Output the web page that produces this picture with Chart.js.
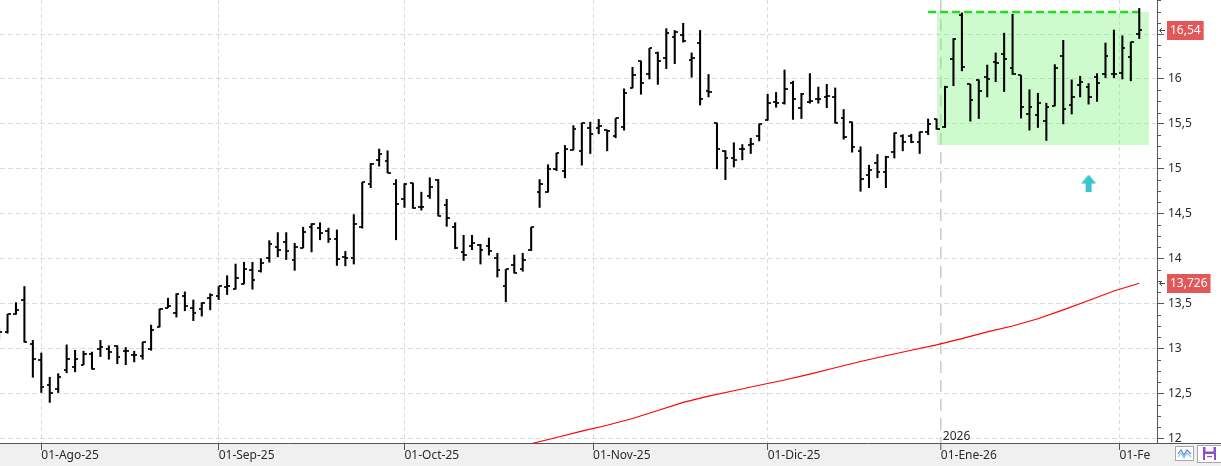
<!DOCTYPE html>
<html>
<head>
<meta charset="utf-8">
<script src="https://cdn.jsdelivr.net/npm/chart.js"></script>
<style>
html,body{margin:0;padding:0;background:#fff;overflow:hidden}
#wrap{position:relative;width:1221px;height:466px}
canvas{display:block}
</style>
</head>
<body>
<div id="wrap"><canvas id="c" width="1221" height="466"></canvas></div>
<script>
// ---------- DATA ----------
const tradingDays = [
 '2025-07-25','2025-07-28','2025-07-29','2025-07-30','2025-07-31',
 '2025-08-01','2025-08-04','2025-08-05','2025-08-06','2025-08-07','2025-08-08','2025-08-11','2025-08-12','2025-08-13','2025-08-14','2025-08-15','2025-08-18','2025-08-19','2025-08-20','2025-08-21','2025-08-22','2025-08-25','2025-08-26','2025-08-27','2025-08-28','2025-08-29',
 '2025-09-01','2025-09-02','2025-09-03','2025-09-04','2025-09-05','2025-09-08','2025-09-09','2025-09-10','2025-09-11','2025-09-12','2025-09-15','2025-09-16','2025-09-17','2025-09-18','2025-09-19','2025-09-22','2025-09-23','2025-09-24','2025-09-25','2025-09-26','2025-09-29','2025-09-30',
 '2025-10-01','2025-10-02','2025-10-03','2025-10-06','2025-10-07','2025-10-08','2025-10-09','2025-10-10','2025-10-13','2025-10-14','2025-10-15','2025-10-16','2025-10-17','2025-10-20','2025-10-21','2025-10-22','2025-10-23','2025-10-24','2025-10-27','2025-10-28','2025-10-29','2025-10-30','2025-10-31',
 '2025-11-03','2025-11-04','2025-11-05','2025-11-06','2025-11-07','2025-11-10','2025-11-11','2025-11-12','2025-11-13','2025-11-14','2025-11-17','2025-11-18','2025-11-19','2025-11-20','2025-11-21','2025-11-24','2025-11-25','2025-11-26','2025-11-27','2025-11-28',
 '2025-12-01','2025-12-02','2025-12-03','2025-12-04','2025-12-05','2025-12-08','2025-12-09','2025-12-10','2025-12-11','2025-12-12','2025-12-15','2025-12-16','2025-12-17','2025-12-18','2025-12-19','2025-12-22','2025-12-23','2025-12-24','2025-12-29','2025-12-30','2025-12-31',
 '2026-01-02','2026-01-05','2026-01-06','2026-01-07','2026-01-08','2026-01-09','2026-01-12','2026-01-13','2026-01-14','2026-01-15','2026-01-16','2026-01-19','2026-01-20','2026-01-21','2026-01-22','2026-01-23','2026-01-26','2026-01-27','2026-01-28','2026-01-29','2026-01-30',
 '2026-02-02','2026-02-03','2026-02-04'
];

const opens = [
 13.15,13.18,13.38,13.54,13.05,12.87,12.59,12.55,12.76,12.79,
 12.82,12.94,12.99,12.99,13.03,12.97,12.93,12.92,12.99,13.24,
 13.455,13.39,13.58,13.45,13.44,13.56,13.58,13.68,13.66,13.72,
 13.87,13.86,14.01,14.125,14.19,13.98,14.12,14.35,14.34,14.31,
 14.22,14.02,14.01,14.35,14.835,15.10,15.09,14.835,14.66,14.84,
 14.58,14.70,14.88,14.60,14.35,14.07,14.145,14.15,14.145,14.01,
 13.69,13.93,13.89,14.10,14.74,14.74,15.00,14.98,15.21,15.20,
 15.45,15.45,15.43,15.37,15.47,15.90,16.20,16.06,16.29,16.23,
 16.47,16.49,16.21,16.40,15.87,15.51,15.20,15.12,15.22,15.27,
 15.36,15.54,15.74,15.73,15.955,15.68,15.745,15.78,15.80,15.80,
 15.57,15.52,15.20,14.93,15.07,14.96,15.19,15.37,15.37,15.30,
 15.415,15.555,15.47,16.22,16.71,15.94,15.99,16.02,16.19,16.28,
 16.12,16.04,15.61,15.60,15.53,15.70,16.255,15.71,15.93,15.915,
 16.02,16.06,16.06,16.07,16.24,16.50
];
const highs = [
 13.22,13.38,13.51,13.69,13.09,12.95,12.68,12.72,13.04,12.98,
 12.97,12.96,13.09,13.03,13.03,13.01,12.97,13.07,13.26,13.44,
 13.56,13.61,13.63,13.54,13.51,13.61,13.69,13.81,13.94,13.96,
 13.96,14.00,14.20,14.29,14.29,14.17,14.35,14.39,14.40,14.34,
 14.32,14.08,14.49,14.85,15.06,15.22,15.20,14.88,14.835,14.84,
 14.74,14.90,14.88,14.66,14.40,14.26,14.26,14.16,14.23,14.06,
 13.88,14.04,14.06,14.35,14.88,15.045,15.175,15.26,15.48,15.51,
 15.52,15.55,15.43,15.56,15.89,16.13,16.20,16.34,16.30,16.56,
 16.54,16.62,16.29,16.54,16.05,15.51,15.20,15.29,15.27,15.34,
 15.50,15.83,15.85,16.10,15.975,15.84,16.06,15.91,15.94,15.90,
 15.66,15.52,15.245,15.04,15.16,15.14,15.40,15.38,15.385,15.41,
 15.555,15.555,15.92,16.45,16.735,15.94,15.99,16.155,16.29,16.51,
 16.72,16.04,15.88,15.84,15.73,16.16,16.43,15.99,16.03,15.95,
 16.06,16.40,16.545,16.48,16.41,16.785
];
const lows = [
 13.10,13.17,13.38,13.07,12.68,12.51,12.40,12.51,12.73,12.74,
 12.82,12.77,12.91,12.88,12.83,12.82,12.85,12.88,12.98,13.24,
 13.455,13.35,13.42,13.31,13.36,13.43,13.545,13.60,13.66,13.72,
 13.66,13.85,13.96,14.02,13.99,13.87,14.12,14.075,14.21,14.18,
 13.925,13.92,13.94,14.34,14.79,15.03,14.955,14.21,14.57,14.56,
 14.54,14.67,14.475,14.36,14.11,13.98,14.10,13.94,14.04,13.795,
 13.52,13.84,13.86,14.09,14.57,14.74,14.98,14.90,15.21,15.04,
 15.17,15.39,15.20,15.345,15.43,15.90,15.83,16.00,15.94,16.115,
 16.17,16.41,16.02,15.71,15.80,15.00,14.88,15.02,15.10,15.17,
 15.31,15.54,15.685,15.72,15.55,15.56,15.73,15.73,15.68,15.51,
 15.33,15.185,14.75,14.79,14.90,14.79,15.12,15.20,15.29,15.17,
 15.38,15.44,15.46,15.925,16.09,15.53,15.56,15.80,15.97,15.86,
 16.05,15.565,15.43,15.46,15.315,15.70,15.50,15.61,15.80,15.72,
 15.75,16.015,16.015,16.00,15.98,16.45
];
const closes = [
 13.18,13.38,13.43,13.07,12.88,12.57,12.51,12.68,12.88,12.88,
 12.94,12.77,13.02,12.96,12.90,12.97,12.93,13.07,13.21,13.44,
 13.47,13.61,13.47,13.40,13.51,13.59,13.69,13.69,13.78,13.89,
 13.76,13.95,14.16,14.10,14.08,14.13,14.30,14.39,14.29,14.22,
 14.00,14.01,14.39,14.85,15.05,15.17,14.955,14.61,14.835,14.56,
 14.58,14.80,14.475,14.45,14.12,14.045,14.17,14.10,14.08,13.87,
 13.88,13.84,13.99,14.35,14.83,15.00,15.175,15.22,15.44,15.51,
 15.39,15.475,15.42,15.56,15.845,16.04,15.955,16.34,16.195,16.51,
 16.52,16.42,16.23,15.78,15.85,15.22,15.12,15.10,15.22,15.28,
 15.50,15.73,15.73,15.89,15.78,15.83,15.75,15.78,15.815,15.51,
 15.355,15.245,14.89,14.99,14.96,15.13,15.40,15.30,15.30,15.41,
 15.50,15.44,15.915,16.45,16.13,15.77,15.87,16.00,16.18,16.22,
 16.06,15.69,15.69,15.73,15.69,16.125,15.67,15.80,15.97,15.80,
 15.96,16.255,16.06,16.35,16.41,16.54
];

// moving average, x = bar index
const maIdx = [63,66,69,72,75,78,81,84,87,90,93,96,99,102,105,108,111,114,117,120,123,126,129,132,135];
const maVal = [11.94,12.01,12.08,12.145,12.22,12.31,12.40,12.47,12.53,12.59,12.65,12.715,12.785,12.855,12.92,12.98,13.04,13.11,13.185,13.25,13.33,13.43,13.535,13.64,13.726];

// month tick labels
const monthStarts = ['2025-08-01','2025-09-01','2025-10-01','2025-11-01','2025-12-01','2026-01-01','2026-02-01'];
const monthLabels = ['01-Ago-25','01-Sep-25','01-Oct-25','01-Nov-25','01-Dic-25','01-Ene-26','01-Feb-26'];
const yearLabel = '2026';
const yTickValues = [12,12.5,13,13.5,14,14.5,15,15.5,16,16.5];

// annotations (data units)
const resistanceLevel = 16.745;
const resistanceFromIdx = 110, resistanceToIdx = 135;
const rangeFromIdx = 111.05, rangeToIdx = 136.15, rangeTop = 16.745, rangeBottom = 15.265;
const signalIdx = [129];
const signalVal = [14.842];

// visible window
const xMin = 0.11, xMax = 137.10, yMin = 11.948, yMax = 16.879;

// ---------- HELPERS ----------
const tDays = tradingDays.map(d => Date.parse(d));
const monthPos = monthStarts.map(m => {
  const t = Date.parse(m);
  const k = tDays.findIndex(d => d >= t);
  if (k <= 0 || tDays[k] === t) return k;
  return (k - 1) + (t - tDays[k - 1]) / (tDays[k] - tDays[k - 1]);
});
const yearIdx = monthLabels.findIndex(l => l.endsWith('Ene-26'));
const fmt = v => String(+v.toFixed(3)).replace('.', ',');

function tickImg(side) {
  const c = document.createElement('canvas');
  c.width = 6; c.height = 2;
  const g = c.getContext('2d');
  g.fillStyle = 'rgba(0,0,0,0.85)';
  if (side === 'L') g.fillRect(0, 0, 3, 2); else g.fillRect(3, 0, 3, 2);
  return c;
}
function arrowImg() {
  const c = document.createElement('canvas');
  c.width = 16; c.height = 17;
  const g = c.getContext('2d');
  g.fillStyle = '#38c5ce';
  g.beginPath(); g.moveTo(8, 0); g.lineTo(15.5, 9); g.lineTo(0.5, 9); g.closePath(); g.fill();
  g.fillRect(5, 9, 6, 8);
  return c;
}

const FONT = '"Noto Sans", "DejaVu Sans", sans-serif';
const BAND = '#f0f0f0';
const AXIS = '#555555';

const chromePlugin = {
  id: 'chrome',
  beforeDraw(chart) {
    const {ctx, width, height, chartArea: ca} = chart;
    ctx.save();
    ctx.fillStyle = '#ffffff'; ctx.fillRect(0, 0, width, height);
    ctx.fillStyle = BAND; ctx.fillRect(0, ca.bottom, width, height - ca.bottom);
    ctx.restore();
  },
  afterDraw(chart) {
    const {ctx, width, height, chartArea: ca, scales: {x, y}} = chart;
    ctx.save();
    // minor y ticks
    ctx.strokeStyle = AXIS; ctx.lineWidth = 1;
    for (let v = yTickValues[0] + 0.125; v < y.max; v += 0.125) {
      if (Math.abs(v * 2 - Math.round(v * 2)) < 1e-6) continue;
      const py = Math.round(y.getPixelForValue(v)) + 0.5;
      ctx.beginPath(); ctx.moveTo(ca.right, py); ctx.lineTo(ca.right + 4, py); ctx.stroke();
    }
    // clip last month label under the right corner panel
    ctx.fillStyle = BAND;
    ctx.fillRect(ca.right - 6, ca.bottom + 1, width - ca.right + 6, height - ca.bottom - 1);
    ctx.beginPath(); ctx.moveTo(ca.right, ca.bottom + 0.5); ctx.lineTo(width, ca.bottom + 0.5); ctx.stroke();

    // year label
    ctx.fillStyle = '#2a2a2a'; ctx.font = '12px ' + FONT;
    ctx.textAlign = 'left'; ctx.textBaseline = 'alphabetic';
    ctx.fillText(yearLabel, x.getPixelForValue(monthPos[yearIdx]) + 2, ca.bottom - 3.5);

    // price tags
    const tag = (value) => {
      const txt = fmt(value);
      const py = y.getPixelForValue(value);
      ctx.font = '12px ' + FONT;
      const w = ctx.measureText(txt).width + 6;
      const top = Math.round(py) - 9;
      ctx.fillStyle = '#e25858';
      ctx.fillRect(ca.right + 10, top, w, 19);
      ctx.fillStyle = '#ffffff'; ctx.textBaseline = 'middle'; ctx.textAlign = 'left';
      ctx.fillText(txt, ca.right + 13, top + 10);
      ctx.strokeStyle = '#444'; ctx.lineWidth = 1;
      const ay = Math.round(py) + 0.5;
      ctx.beginPath();
      ctx.moveTo(ca.right + 5, ay - 2.5); ctx.lineTo(ca.right + 2.5, ay); ctx.lineTo(ca.right + 5, ay + 2.5);
      ctx.moveTo(ca.right + 2.5, ay); ctx.lineTo(ca.right + 8, ay);
      ctx.stroke();
    };
    tag(closes[closes.length - 1]);
    tag(maVal[maVal.length - 1]);

    // bottom-right buttons
    const b = ca.bottom;
    ctx.fillStyle = '#ffffff'; ctx.strokeStyle = '#a8a8a8'; ctx.lineWidth = 1;
    ctx.fillRect(1175.5, b + 3.5, 18, 14); ctx.strokeRect(1175.5, b + 3.5, 18, 14);
    ctx.lineWidth = 1.2;
    ctx.strokeStyle = '#4f86d8';
    ctx.beginPath(); ctx.moveTo(1178, b + 11); ctx.lineTo(1181, b + 7); ctx.lineTo(1184, b + 12); ctx.lineTo(1187, b + 7); ctx.lineTo(1191, b + 11); ctx.stroke();
    ctx.strokeStyle = '#9cbdea';
    ctx.beginPath(); ctx.moveTo(1178, b + 14); ctx.lineTo(1181, b + 10); ctx.lineTo(1184, b + 15); ctx.lineTo(1187, b + 10); ctx.lineTo(1191, b + 14); ctx.stroke();
    ctx.lineWidth = 1; ctx.strokeStyle = '#a8a8a8'; ctx.fillStyle = '#ffffff';
    ctx.fillRect(1197.5, b + 2.5, 30, 17); ctx.strokeRect(1197.5, b + 2.5, 30, 17);
    ctx.fillStyle = '#8c52cc';
    ctx.fillRect(1203, b + 4, 13, 13);
    ctx.fillStyle = '#ffffff';
    ctx.fillRect(1205.5, b + 4, 8, 4.5);
    ctx.fillRect(1205, b + 11, 9, 6);
    ctx.fillStyle = '#8c52cc';
    ctx.fillRect(1207, b + 13, 5, 1.2);
    ctx.restore();
  }
};

// ---------- DATASETS ----------
const hlData = tradingDays.map((d, i) => ({x: i, y: [lows[i], highs[i]]}));
const openData = tradingDays.map((d, i) => ({x: i, y: opens[i]}));
const closeData = tradingDays.map((d, i) => ({x: i, y: closes[i]}));
const maData = maIdx.map((xv, k) => ({x: xv, y: maVal[k]}));

new Chart(document.getElementById('c'), {
  type: 'bar',
  data: {
    datasets: [
      {type: 'line', data: [{x: rangeFromIdx, y: rangeTop}, {x: rangeToIdx, y: rangeTop}],
       borderWidth: 0, pointRadius: 0, fill: '+1', backgroundColor: 'rgba(120,245,120,0.36)', order: 20},
      {type: 'line', data: [{x: rangeFromIdx, y: rangeBottom}, {x: rangeToIdx, y: rangeBottom}],
       borderWidth: 0, pointRadius: 0, fill: false, order: 21},
      {type: 'line', data: [{x: resistanceFromIdx, y: resistanceLevel}, {x: resistanceToIdx, y: resistanceLevel}],
       borderColor: '#1fdc1f', borderWidth: 2.6, borderDash: [8, 4], pointRadius: 0, fill: false, order: 8},
      {type: 'line', data: maData, borderColor: '#ff0000', borderWidth: 1.1, pointRadius: 0, fill: false, tension: 0, order: 6},
      {type: 'bar', data: hlData, backgroundColor: '#000000', borderWidth: 0, barThickness: 1.4, order: 4},
      {type: 'line', data: openData, showLine: false, pointStyle: tickImg('L'), pointRadius: 3, order: 3},
      {type: 'line', data: closeData, showLine: false, pointStyle: tickImg('R'), pointRadius: 3, order: 2},
      {type: 'line', data: signalIdx.map((xv, k) => ({x: xv, y: signalVal[k]})), showLine: false, pointStyle: arrowImg(), pointRadius: 8, order: 1}
    ]
  },
  options: {
    responsive: false,
    animation: false,
    devicePixelRatio: 1,
    events: [],
    layout: {padding: 0, autoPadding: false},
    plugins: {legend: {display: false}, tooltip: {enabled: false}},
    scales: {
      x: {
        type: 'linear', min: xMin, max: xMax, offset: false,
        afterBuildTicks: a => { a.ticks = monthPos.map(v => ({value: v})); },
        afterFit: s => { s.height = 23; s.paddingLeft = 0; s.paddingRight = 0; },
        grid: {
          offset: false,
          color: c => c.index === yearIdx ? '#cdcdcd' : '#dcdcdc',
          lineWidth: c => c.index === yearIdx ? 1.6 : 1,
          tickLength: 7, tickColor: AXIS, tickWidth: 1
        },
        border: {display: true, color: AXIS, width: 1, dash: c => c.index === yearIdx ? [12, 7] : [4, 3]},
        ticks: {
          autoSkip: false, maxRotation: 0, minRotation: 0, align: 'start', padding: -2,
          color: '#2a2a2a', font: {family: FONT, size: 12},
          callback: (v, i) => monthLabels[i]
        }
      },
      y: {
        position: 'right', min: yMin, max: yMax,
        afterBuildTicks: a => { a.ticks = yTickValues.map(v => ({value: v})); },
        afterFit: s => { s.width = 64; s.paddingTop = 0; s.paddingBottom = 0; },
        grid: {color: '#dcdcdc', lineWidth: 1, tickLength: 7, tickColor: AXIS, tickWidth: 1},
        border: {display: true, color: AXIS, width: 1, dash: [5, 3]},
        ticks: {padding: 4, color: '#2a2a2a', font: {family: FONT, size: 12}, callback: v => fmt(v)}
      }
    }
  },
  plugins: [chromePlugin]
});
</script>
</body>
</html>
